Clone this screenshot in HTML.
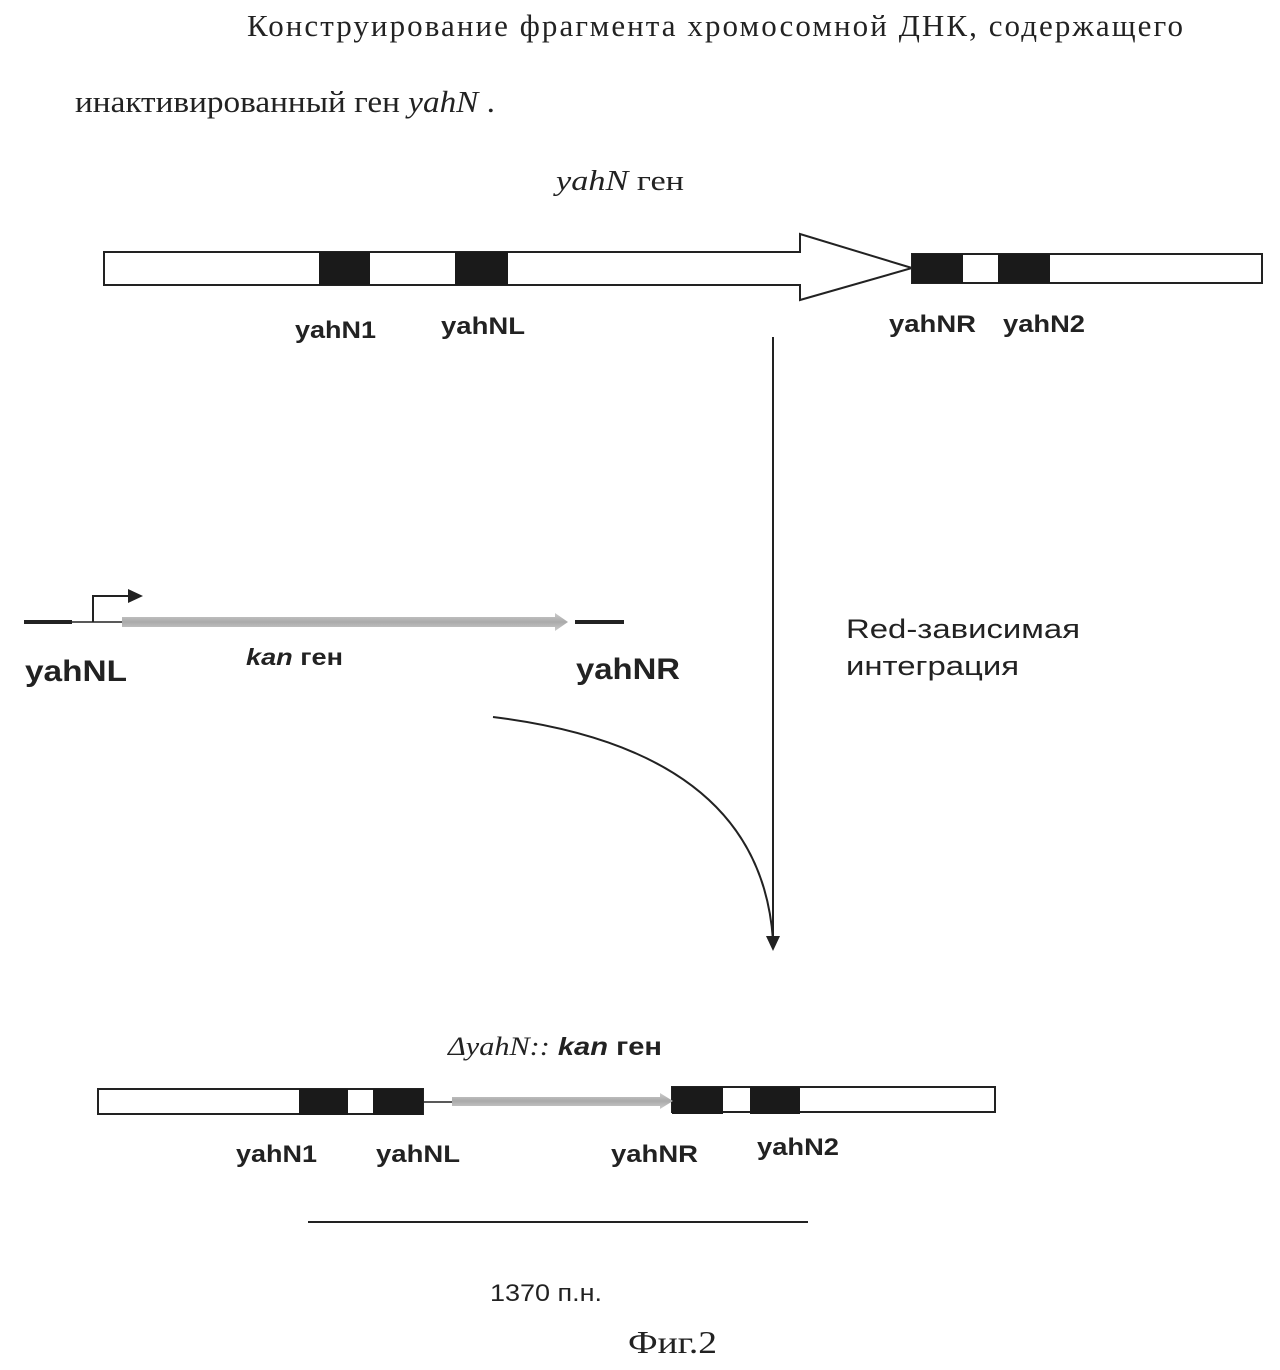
<!DOCTYPE html>
<html><head><meta charset="utf-8"><style>
body{margin:0;background:#fff;width:1280px;height:1370px;overflow:hidden}
svg{display:block}
.s{font-family:"Liberation Serif",serif;fill:#222}
.b{font-family:"Liberation Sans",sans-serif;font-weight:bold;fill:#222}
.r{font-family:"Liberation Sans",sans-serif;fill:#222}
</style></head><body>
<svg width="1280" height="1370" viewBox="0 0 1280 1370">
<defs>
<linearGradient id="g" x1="0" x2="0" y1="0" y2="1"><stop offset="0" stop-color="#ccc"/><stop offset="0.5" stop-color="#aaa"/><stop offset="1" stop-color="#ccc"/></linearGradient>
</defs>
<text class="s" x="247" y="36" font-size="31" textLength="936" lengthAdjust="spacing">Конструирование фрагмента хромосомной ДНК, содержащего</text>
<text class="s" x="75" y="112" font-size="31" textLength="420" lengthAdjust="spacingAndGlyphs">инактивированный ген <tspan font-style="italic">yahN</tspan> .</text>
<text class="s" x="556" y="190" font-size="29" textLength="128" lengthAdjust="spacingAndGlyphs"><tspan font-style="italic">yahN</tspan> ген</text>

<g stroke="#222" stroke-width="2" fill="#fff">
<path d="M104 252 H800 V234 L912 268 L800 300 V285 H104 Z"/>
<rect x="912" y="254" width="350" height="29"/>
</g>
<g fill="#1a1a1a">
<rect x="319" y="252" width="51" height="33"/><rect x="455" y="252" width="53" height="33"/>
<rect x="912" y="254" width="51" height="29"/><rect x="998" y="254" width="52" height="29"/>
</g>
<g class="b" font-size="24" lengthAdjust="spacingAndGlyphs">
<text x="295" y="338" textLength="81" lengthAdjust="spacingAndGlyphs">yahN1</text><text x="441" y="334" textLength="84" lengthAdjust="spacingAndGlyphs">yahNL</text>
<text x="889" y="332" textLength="87" lengthAdjust="spacingAndGlyphs">yahNR</text><text x="1003" y="332" textLength="82" lengthAdjust="spacingAndGlyphs">yahN2</text>
</g>

<line x1="773" y1="337" x2="773" y2="938" stroke="#222" stroke-width="2"/>
<path d="M766 936 L780 936 L773 951 Z" fill="#222"/>
<path d="M493 717 Q760 750 773 940" fill="none" stroke="#222" stroke-width="2"/>

<line x1="24" y1="622" x2="72" y2="622" stroke="#222" stroke-width="4"/>
<line x1="72" y1="622" x2="122" y2="622" stroke="#222" stroke-width="1.5"/>
<path d="M93 622 V596 H132" fill="none" stroke="#222" stroke-width="2"/>
<path d="M128 589 L143 596 L128 603 Z" fill="#222"/>
<path d="M122 617 H555 V613 L568 622 L555 631 V627 H122 Z" fill="url(#g)"/>
<line x1="575" y1="622" x2="624" y2="622" stroke="#222" stroke-width="4"/>
<text class="b" x="25" y="681" font-size="30" textLength="102" lengthAdjust="spacingAndGlyphs">yahNL</text>
<text class="b" x="246" y="665" font-size="23" textLength="97" lengthAdjust="spacingAndGlyphs"><tspan font-style="italic">kan</tspan> ген</text>
<text class="b" x="576" y="679" font-size="30" textLength="104" lengthAdjust="spacingAndGlyphs">yahNR</text>
<text class="r" x="846" y="638" font-size="27" textLength="234" lengthAdjust="spacingAndGlyphs">Red-зависимая</text>
<text class="r" x="846" y="675" font-size="27" textLength="173" lengthAdjust="spacingAndGlyphs">интеграция</text>

<text x="448" y="1055" font-size="25" textLength="214" lengthAdjust="spacingAndGlyphs"><tspan class="s" font-style="italic" font-size="26">ΔyahN::</tspan><tspan class="b"> <tspan font-style="italic">kan</tspan> ген</tspan></text>
<g stroke="#222" stroke-width="2" fill="#fff">
<rect x="98" y="1089" width="325" height="25"/>
<rect x="672" y="1087" width="323" height="25"/>
</g>
<g fill="#1a1a1a">
<rect x="299" y="1089" width="49" height="26"/><rect x="373" y="1089" width="50" height="26"/>
<rect x="672" y="1087" width="51" height="27"/><rect x="750" y="1087" width="50" height="27"/>
</g>
<line x1="423" y1="1102" x2="452" y2="1102" stroke="#222" stroke-width="1.5"/>
<path d="M452 1097 H660 V1093 L673 1101 L660 1109 V1106 H452 Z" fill="url(#g)"/>
<g class="b" font-size="24">
<text x="236" y="1162" textLength="81" lengthAdjust="spacingAndGlyphs">yahN1</text><text x="376" y="1162" textLength="84" lengthAdjust="spacingAndGlyphs">yahNL</text>
<text x="611" y="1162" textLength="87" lengthAdjust="spacingAndGlyphs">yahNR</text><text x="757" y="1155" textLength="82" lengthAdjust="spacingAndGlyphs">yahN2</text>
</g>
<line x1="308" y1="1222" x2="808" y2="1222" stroke="#222" stroke-width="2"/>
<text class="r" x="490" y="1301" font-size="24" textLength="112" lengthAdjust="spacingAndGlyphs">1370 п.н.</text>
<text class="s" x="628" y="1353" font-size="32" textLength="89" lengthAdjust="spacingAndGlyphs">Фиг.2</text>
</svg>
</body></html>
